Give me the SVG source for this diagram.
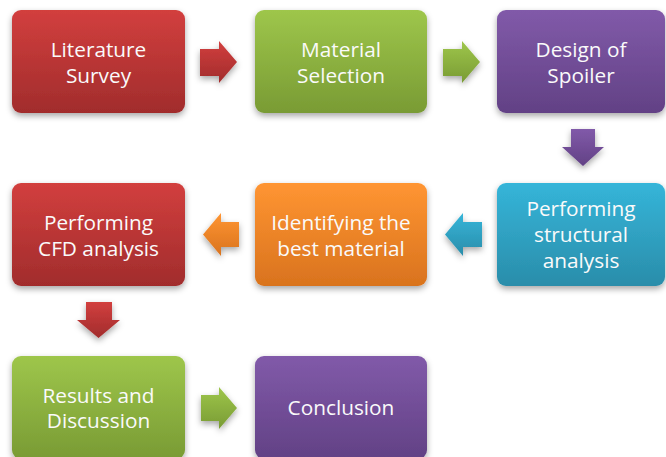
<svg xmlns="http://www.w3.org/2000/svg" width="666" height="457" viewBox="0 0 666 457">
<defs>
<linearGradient id="gRed" x1="0" y1="0" x2="0" y2="1"><stop offset="0" stop-color="#D23F3E"/><stop offset="1" stop-color="#A12C2C"/></linearGradient>
<linearGradient id="gGreen" x1="0" y1="0" x2="0" y2="1"><stop offset="0" stop-color="#9EC64B"/><stop offset="1" stop-color="#799B34"/></linearGradient>
<linearGradient id="gPurple" x1="0" y1="0" x2="0" y2="1"><stop offset="0" stop-color="#815AA9"/><stop offset="1" stop-color="#624185"/></linearGradient>
<linearGradient id="gBlue" x1="0" y1="0" x2="0" y2="1"><stop offset="0" stop-color="#35B5D9"/><stop offset="1" stop-color="#2A8DAA"/></linearGradient>
<linearGradient id="gOrange" x1="0" y1="0" x2="0" y2="1"><stop offset="0" stop-color="#FF9532"/><stop offset="1" stop-color="#D9731E"/></linearGradient>
<filter id="sh" x="-20%" y="-20%" width="140%" height="150%"><feDropShadow dx="0" dy="3" stdDeviation="3" flood-color="#000" flood-opacity="0.35"/></filter>
</defs>
<style>
.box{filter:url(#sh)}
.arr{filter:url(#sh)}
text{font-family:"Open Sans","Liberation Sans",sans-serif;font-size:20.8px;fill:#FAFAFA;text-anchor:middle}
</style>
<rect width="666" height="457" fill="#FFFFFF"/>
<g id="connectors">
<path class="arr" fill="url(#gRed)" d="M200,49 H219 V41 L237,62 L219,83 V76 H200 Z"/>
<path class="arr" fill="url(#gGreen)" d="M443,49 H462 V41 L480,62 L462,83 V76 H443 Z"/>
<path class="arr" fill="url(#gPurple)" d="M571,129 H595 V147 H604 L583,166 L562,147 H571 Z"/>
<path class="arr" fill="url(#gBlue)" d="M482,222 H463 V213 L445,234.5 L463,256 V247 H482 Z"/>
<path class="arr" fill="url(#gOrange)" d="M239,222 H221 V213 L203,234.5 L221,256 V247 H239 Z"/>
<path class="arr" fill="url(#gRed)" d="M86,302 H112 V320 H120 L98.5,338 L77,320 H86 Z"/>
<path class="arr" fill="url(#gGreen)" d="M201,395 H219 V387 L237,408 L219,429 V421 H201 Z"/>
</g>
<g id="n1"><rect class="box" x="12" y="10" width="173" height="103" rx="9" fill="url(#gRed)"/><text x="98.5" y="57">Literature</text><text x="98.5" y="82.5">Survey</text></g>
<g id="n2"><rect class="box" x="255" y="10" width="172" height="103" rx="9" fill="url(#gGreen)"/><text x="341" y="57">Material</text><text x="341" y="82.5">Selection</text></g>
<g id="n3"><rect class="box" x="497" y="10" width="168" height="103" rx="9" fill="url(#gPurple)"/><text x="581" y="57">Design of</text><text x="581" y="82.5">Spoiler</text></g>
<g id="n4"><rect class="box" x="497" y="183" width="168" height="103" rx="9" fill="url(#gBlue)"/><text x="581" y="216">Performing</text><text x="581" y="242">structural</text><text x="581" y="268">analysis</text></g>
<g id="n5"><rect class="box" x="255" y="183" width="172" height="103" rx="9" fill="url(#gOrange)"/><text x="341" y="230">Identifying the</text><text x="341" y="255.5">best material</text></g>
<g id="n6"><rect class="box" x="12" y="183" width="173" height="103" rx="9" fill="url(#gRed)"/><text x="98.5" y="230">Performing</text><text x="98.5" y="255.5">CFD analysis</text></g>
<g id="n7"><rect class="box" x="12" y="356" width="173" height="103" rx="9" fill="url(#gGreen)"/><text x="98.5" y="402.5">Results and</text><text x="98.5" y="428">Discussion</text></g>
<g id="n8"><rect class="box" x="255" y="356" width="172" height="103" rx="9" fill="url(#gPurple)"/><text x="341" y="415">Conclusion</text></g>
</svg>
